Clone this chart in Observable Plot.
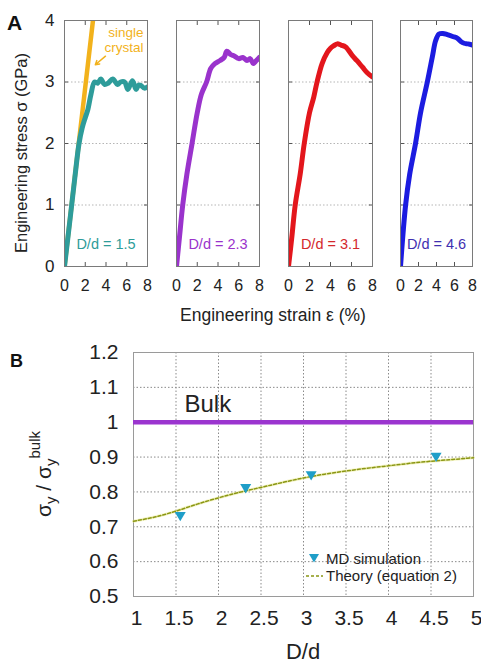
<!DOCTYPE html>
<html>
<head>
<meta charset="utf-8">
<script src="https://cdn.jsdelivr.net/npm/d3@7"></script>
<script src="https://cdn.jsdelivr.net/npm/@observablehq/plot@0.6"></script>
<style>
  html, body { margin: 0; padding: 0; background: #fff; }
  #chart { position: relative; width: 481px; height: 667px; overflow: hidden; font-family: "Liberation Sans", Arial, sans-serif; }
  #chart svg { position: absolute; overflow: visible; }
</style>
</head>
<body>
<div id="chart"></div>
<script>
// ---------- Panel A data: engineering stress-strain curves ----------
const strainTicks = [0, 2, 4, 6, 8];
const strainInnerTicks = [2, 4, 6];
const stressTicks = [0, 1, 2, 3, 4];
const stressGrid = [1, 2, 3];

const singleCrystalStrain = [0, 2.95];
const singleCrystalStress = [0, 4.3];

const strain15 = [0, 0.5, 1.0, 1.4, 1.7, 2.0, 2.25, 2.55, 2.9, 3.2, 3.5, 3.85, 4.2, 4.65, 5.1, 5.4, 5.8, 6.1, 6.55, 6.9, 7.15, 7.4, 7.7, 8.0];
const stress15 = [0, 0.72, 1.45, 2.0, 2.25, 2.42, 2.55, 2.8, 3.0, 2.98, 3.05, 2.96, 2.98, 3.05, 2.96, 3.0, 3.0, 2.88, 3.02, 2.88, 2.95, 2.94, 2.9, 2.92];

const strain23 = [0, 0.3, 0.6, 1.0, 1.5, 2.0, 2.4, 2.9, 3.3, 3.7, 4.2, 4.6, 4.85, 5.2, 5.6, 6.0, 6.4, 6.8, 7.1, 7.4, 7.7, 8.0];
const stress23 = [0, 0.5, 1.0, 1.5, 2.0, 2.5, 2.8, 3.0, 3.22, 3.3, 3.35, 3.4, 3.5, 3.45, 3.42, 3.38, 3.4, 3.35, 3.38, 3.3, 3.35, 3.4];

const strain31 = [0, 0.3, 0.64, 1.12, 1.5, 2.0, 2.4, 2.72, 3.2, 3.69, 4.0, 4.32, 4.64, 5.0, 5.44, 6.08, 6.5, 7.05, 7.5, 8.0];
const stress31 = [0, 0.45, 1.0, 1.51, 2.0, 2.5, 2.75, 3.0, 3.3, 3.48, 3.55, 3.59, 3.62, 3.6, 3.57, 3.43, 3.35, 3.24, 3.15, 3.08];

const strain46 = [0, 0.56, 1.02, 1.67, 2.23, 2.98, 3.54, 3.9, 4.28, 4.7, 5.2, 5.8, 6.33, 6.7, 7.07, 7.5, 8.0];
const stress46 = [0, 0.99, 1.5, 2.0, 2.5, 3.0, 3.41, 3.67, 3.78, 3.79, 3.77, 3.74, 3.71, 3.66, 3.63, 3.62, 3.6];

const panelLabels = ["D/d = 1.5", "D/d = 2.3", "D/d = 3.1", "D/d = 4.6"];
const singleCrystalLabel = "single\ncrystal";

// ---------- Panel B data: normalized yield strength ----------
const ratioXTicks = [1, 1.5, 2, 2.5, 3, 3.5, 4, 4.5, 5];
const ratioYTicks = [0.5, 0.6, 0.7, 0.8, 0.9, 1, 1.1, 1.2];
const bulkLevel = [1];
const bulkLabel = ["Bulk"];
const mdDd = [1.55, 2.32, 3.09, 4.56];
const mdRatio = [0.73, 0.81, 0.847, 0.90];
const theoryDd = [1, 1.25, 1.5, 1.75, 2, 2.25, 2.5, 2.75, 3, 3.25, 3.5, 3.75, 4, 4.25, 4.5, 4.75, 5];
const theoryRatio = [0.716, 0.728, 0.745, 0.765, 0.783, 0.799, 0.813, 0.827, 0.840, 0.851, 0.860, 0.868, 0.875, 0.882, 0.888, 0.893, 0.898];
const legendLabels = ["MD simulation", "Theory (equation 2)"];

// ---------- styling ----------
const FONT = '"Liberation Sans", Arial, sans-serif';
const C = {
  teal: "#2e9c9a", orange: "#f2b21c", purple: "#9a33cc", red: "#e3161c", blue: "#1c1ce0",
  blueLabel: "#3f2fb0", md: "#1f9ec8", theory: "#8a9614", bulk: "#9b35cf"
};
const chart = document.getElementById("chart");

const triangleDown = {
  draw(ctx, size) {
    const r = Math.sqrt(size / Math.PI);
    ctx.moveTo(-r, -r * 0.8);
    ctx.lineTo(r, -r * 0.8);
    ctx.lineTo(0, r * 0.9);
    ctx.closePath();
  }
};

function panelA(cfg) {
  const ml = cfg.yLabels ? cfg.left : 4;
  const mr = 4;
  const marks = [
    Plot.gridY(stressGrid, {stroke: "#b5b5b5", strokeOpacity: 1, strokeDasharray: "1.5,2"}),
    Plot.axisX(strainTicks, {tickSize: 0, tickPadding: 13, fontSize: 16, label: null, tickFormat: d => String(d)}),
    Plot.axisX(strainInnerTicks, {anchor: "bottom", tickSize: -4, tickFormat: () => "", label: null, stroke: "#555"}),
    Plot.axisX(strainInnerTicks, {anchor: "top", tickSize: -4, tickFormat: () => "", label: null, stroke: "#555"}),
    Plot.axisY(stressGrid, {anchor: "left", tickSize: -4, tickFormat: () => "", label: null, stroke: "#555"}),
    Plot.axisY(stressGrid, {anchor: "right", tickSize: -4, tickFormat: () => "", label: null, stroke: "#555"})
  ];
  if (cfg.yLabels) {
    marks.push(Plot.axisY(stressTicks, {anchor: "left", tickSize: 0, tickPadding: 10, fontSize: 17, label: null, tickFormat: d => String(d)}));
  }
  if (cfg.extra) marks.push(...cfg.extra);
  marks.push(
    Plot.line(cfg.xs, {x: cfg.xs, y: cfg.ys, stroke: cfg.color, strokeWidth: 5, strokeLinejoin: "round", strokeLinecap: "round", curve: "catmull-rom", clip: true}),
    Plot.text([cfg.label], {frameAnchor: "bottom", dy: -18, fill: cfg.labelColor, fontSize: 14.5}),
    Plot.frame({stroke: "#7a7a7a"})
  );
  if (cfg.after) marks.push(...cfg.after);
  const svg = Plot.plot({
    width: ml + cfg.w + mr,
    height: 296,
    marginLeft: ml, marginRight: mr, marginTop: 20, marginBottom: 30,
    x: {domain: [0, 8]},
    y: {domain: [0, 4]},
    style: {fontFamily: FONT, color: "#222", background: "transparent", overflow: "visible"},
    marks
  });
  svg.style.left = (cfg.left - ml) + "px";
  svg.style.top = "0px";
  chart.appendChild(svg);
}

panelA({
  xs: strain15, ys: stress15, color: C.teal, label: panelLabels[0], labelColor: C.teal,
  left: 64, w: 83, yLabels: true,
  extra: [
    Plot.line(singleCrystalStrain, {x: singleCrystalStrain, y: singleCrystalStress, stroke: C.orange, strokeWidth: 4.5, clip: true})
  ],
  after: [
    Plot.text([singleCrystalLabel], {frameAnchor: "top-right", dx: -4, dy: 6, lineAnchor: "top", textAnchor: "end", lineHeight: 1.1, fill: C.orange, fontSize: 13.5}),
    Plot.arrow([0], {x1: 3.95, y1: 3.42, x2: 2.97, y2: 3.28, stroke: C.orange, strokeWidth: 1.5, headLength: 6})
  ]
});
panelA({xs: strain23, ys: stress23, color: C.purple, label: panelLabels[1], labelColor: C.purple, left: 176, w: 83});
panelA({xs: strain31, ys: stress31, color: C.red, label: panelLabels[2], labelColor: "#d4282c", left: 288, w: 84});
panelA({xs: strain46, ys: stress46, color: C.blue, label: panelLabels[3], labelColor: C.blueLabel, left: 400, w: 72});

// ---------- Panel B ----------
const plotB = Plot.plot({
  width: 481, height: 337,
  marginTop: 22, marginLeft: 133, marginRight: 8, marginBottom: 71,
  x: {domain: [1, 5]},
  y: {domain: [0.5, 1.2]},
  style: {fontFamily: FONT, color: "#222", background: "transparent", overflow: "visible"},
  marks: [
    Plot.gridX(ratioXTicks, {stroke: "#8a8a8a", strokeOpacity: 1, strokeDasharray: "1.5,2"}),
    Plot.gridY(ratioYTicks, {stroke: "#8a8a8a", strokeOpacity: 1, strokeDasharray: "1.5,2"}),
    Plot.frame({stroke: "#9a9a9a"}),
    Plot.axisX(ratioXTicks, {tickSize: 0, tickPadding: 14, dx: 3, fontSize: 21, label: null, tickFormat: d => String(d)}),
    Plot.axisY(ratioYTicks, {tickSize: 0, tickPadding: 15, fontSize: 21, label: null, tickFormat: d => String(d)}),
    Plot.ruleY(bulkLevel, {stroke: C.bulk, strokeWidth: 4.5}),
    Plot.text(bulkLabel, {x: 1.6, y: 1.05, textAnchor: "start", fontSize: 24, fill: "#222"}),
    Plot.line(theoryDd, {x: theoryDd, y: theoryRatio, stroke: "#ecec90", strokeWidth: 3, strokeOpacity: 0.5, curve: "natural"}),
    Plot.line(theoryDd, {x: theoryDd, y: theoryRatio, stroke: C.theory, strokeWidth: 1.5, strokeDasharray: "3,2", curve: "natural"}),
    Plot.dot(mdDd, {x: mdDd, y: mdRatio, symbol: triangleDown, r: 5.5, fill: C.md, stroke: "none"})
  ]
});
plotB.style.left = "0px";
plotB.style.top = "330px";
chart.appendChild(plotB);

// ---------- overlay: panel letters, axis titles, legend ----------
const ov = d3.select(chart).append("svg")
  .attr("width", 481).attr("height", 667)
  .style("left", "0px").style("top", "0px").style("pointer-events", "none")
  .attr("font-family", FONT);

ov.append("text").attr("x", 7).attr("y", 30).attr("font-size", 21).attr("font-weight", "bold").attr("fill", "#111").text("A");
ov.append("text").attr("x", 10).attr("y", 367).attr("font-size", 18).attr("font-weight", "bold").attr("fill", "#111").text("B");

ov.append("text")
  .attr("transform", "translate(27,153) rotate(-90)")
  .attr("text-anchor", "middle").attr("font-size", 16.5).attr("fill", "#222")
  .text("Engineering stress σ (GPa)");

ov.append("text")
  .attr("x", 273).attr("y", 320.5)
  .attr("text-anchor", "middle").attr("font-size", 17.5).attr("fill", "#222")
  .text("Engineering strain ε (%)");

ov.append("text")
  .attr("x", 303).attr("y", 659)
  .attr("text-anchor", "middle").attr("font-size", 22).attr("fill", "#222")
  .text("D/d");

const yl = ov.append("text")
  .attr("transform", "translate(51,474) rotate(-90)")
  .attr("text-anchor", "middle").attr("font-size", 21).attr("fill", "#222");
yl.append("tspan").text("σ");
yl.append("tspan").attr("font-size", 15).attr("dy", 5).text("y");
yl.append("tspan").attr("dy", -5).text(" / σ");
yl.append("tspan").attr("font-size", 15).attr("dy", 5).text("y");
yl.append("tspan").attr("font-size", 15).attr("dy", -16).text("bulk");

// legend
const lg = ov.append("g").attr("font-size", 15).attr("fill", "#222");
lg.append("path").attr("d", d3.symbol(triangleDown, Math.PI * 5 * 5)()).attr("transform", "translate(314,558)").attr("fill", C.md);
lg.append("text").attr("x", 326).attr("y", 564).text(legendLabels[0]);
lg.append("line").attr("x1", 306).attr("x2", 323).attr("y1", 576).attr("y2", 576)
  .attr("stroke", C.theory).attr("stroke-width", 1.5).attr("stroke-dasharray", "3,2");
lg.append("text").attr("x", 326).attr("y", 581).text(legendLabels[1]);
</script>
</body>
</html>
